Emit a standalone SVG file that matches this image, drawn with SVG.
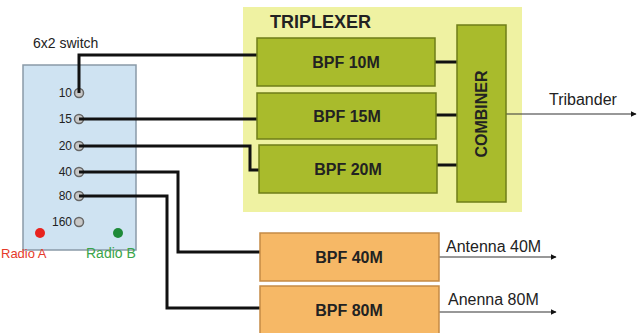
<svg xmlns="http://www.w3.org/2000/svg" width="637" height="333" viewBox="0 0 637 333">
<defs>
<style>
text{font-family:"Liberation Sans",Arial,sans-serif;fill:#222}
.bpf{fill:#a9bb2c;stroke:#6f7e18;stroke-width:1.5}
.orange{fill:#f6b866;stroke:#c58a45;stroke-width:1.5}
.lbl{font-size:16px;font-weight:bold;text-anchor:middle}
.wire{fill:none;stroke:#111;stroke-width:3}
.thin{fill:none;stroke:#333;stroke-width:1.2;marker-end:url(#ah)}
.port{fill:#c8c8c8;stroke:#666;stroke-width:1.5}
.pl{font-size:12px;text-anchor:end}
.out{font-size:16px}
</style>
<marker id="ah" viewBox="0 0 10 10" refX="9" refY="5" markerWidth="6" markerHeight="6" orient="auto" markerUnits="userSpaceOnUse"><path d="M0,0L10,5L0,10z" fill="#111"/></marker>
</defs>
<rect width="637" height="333" fill="#fff"/>
<g id="triplexer">
<rect x="243" y="7" width="279" height="205" fill="#eff2a2"/>
<text x="270" y="28" font-size="18" font-weight="bold">TRIPLEXER</text>
</g>
<g id="switch">
<text x="33" y="48" font-size="14">6x2 switch</text>
<rect x="23" y="65" width="113" height="185" fill="#cfe3f2" stroke="#8a9aa8" stroke-width="1.5"/>
<text class="pl" x="72" y="97">10</text>
<text class="pl" x="72" y="123">15</text>
<text class="pl" x="72" y="150">20</text>
<text class="pl" x="72" y="176">40</text>
<text class="pl" x="72" y="200">80</text>
<text class="pl" x="72" y="226">160</text>
<circle class="port" cx="79" cy="93" r="4.5"/>
<circle class="port" cx="79" cy="119" r="4.5"/>
<circle class="port" cx="79" cy="146" r="4.5"/>
<circle class="port" cx="79" cy="172" r="4.5"/>
<circle class="port" cx="79" cy="196" r="4.5"/>
<circle class="port" cx="79" cy="222" r="4.5"/>
<circle cx="40" cy="233" r="5" fill="#e8231e"/>
<circle cx="118" cy="233" r="5" fill="#1e8a38"/>
<text x="1" y="258" font-size="13" style="fill:#e53a2a">Radio A</text>
<text x="86" y="258" font-size="14" style="fill:#3aa54a">Radio B</text>
</g>
<g id="connectors">
<path class="wire" d="M79,93V55H257"/>
<path class="wire" d="M79,119H257"/>
<path class="wire" d="M79,146H250V170H259"/>
<path class="wire" d="M79,172H178V252H262"/>
<path class="wire" d="M79,196H167V308H262"/>
<path class="wire" d="M435,62H457M435,115H457M437,165H457"/>
<path class="thin" d="M506,114H636"/>
<path class="thin" d="M439,257H556"/>
<path class="thin" d="M439,312H556"/>
</g>
<g id="bpf10"><rect class="bpf" x="257" y="38" width="178" height="48"/><text class="lbl" x="346" y="68">BPF 10M</text></g>
<g id="bpf15"><rect class="bpf" x="257" y="93" width="179" height="46"/><text class="lbl" x="347" y="122">BPF 15M</text></g>
<g id="bpf20"><rect class="bpf" x="259" y="145" width="178" height="48"/><text class="lbl" x="348" y="175">BPF 20M</text></g>
<g id="combiner"><rect class="bpf" x="457" y="25" width="49" height="177"/><text class="lbl" transform="translate(487,114) rotate(-90)">COMBINER</text></g>
<g id="bpf40"><rect class="orange" x="260" y="233" width="179" height="48"/><text class="lbl" x="349" y="263">BPF 40M</text></g>
<g id="bpf80"><rect class="orange" x="260" y="286" width="179" height="48"/><text class="lbl" x="349" y="316">BPF 80M</text></g>
<g id="labels">
<text class="out" x="549" y="105">Tribander</text>
<text class="out" x="446" y="252">Antenna 40M</text>
<text class="out" x="448" y="305">Anenna 80M</text>
</g>
</svg>
